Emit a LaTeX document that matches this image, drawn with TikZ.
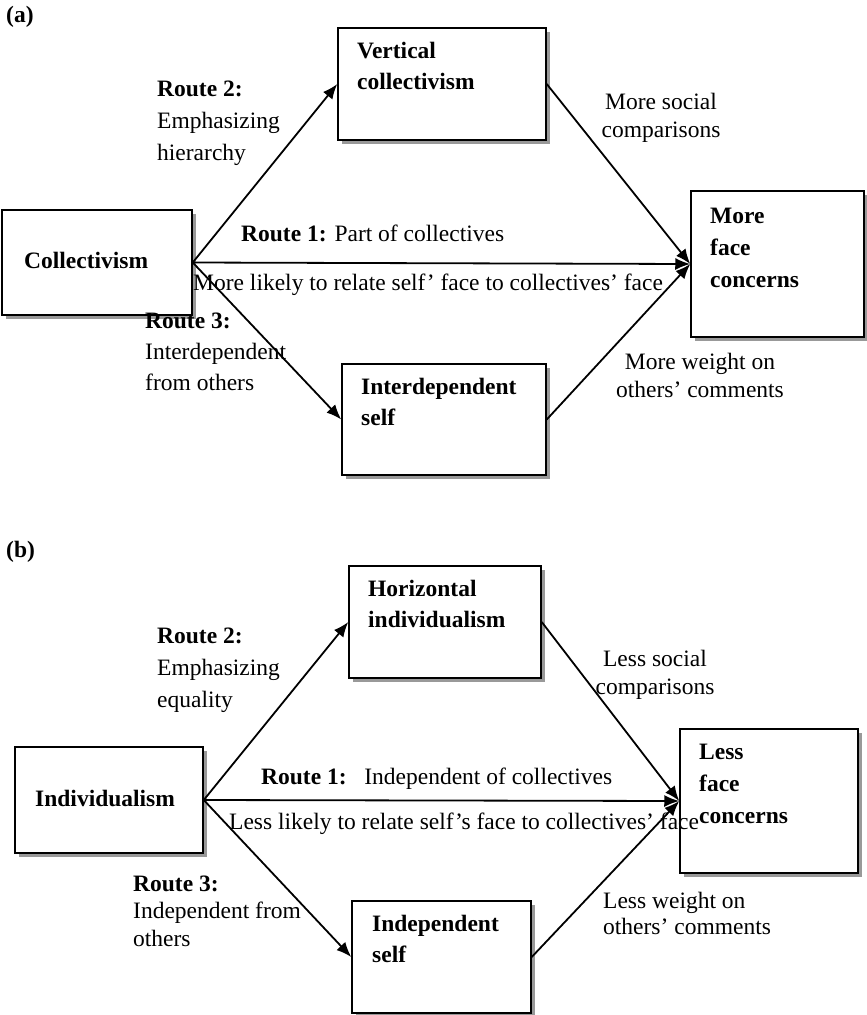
\documentclass[tikz,border=0pt]{standalone}
\usepackage{fontspec}
\setmainfont{Liberation Serif}
\usetikzlibrary{arrows.meta,shadows}

\begin{document}
\begin{tikzpicture}[x=1pt,y=-1pt,
  box/.style={draw, line width=1.5pt, fill=white, inner sep=0pt,
    drop shadow={shadow xshift=4pt, shadow yshift=-4pt, fill=black!40, opacity=1}},
  boxtext/.style={font=\fontsize{23.5}{31.5}\selectfont\bfseries, align=left, inner sep=0pt, anchor=base west},
  note/.style={font=\fontsize{23.5}{32}\selectfont, align=left, inner sep=0pt, anchor=base west},
  link/.style={line width=1.8pt, -{Latex[length=15pt,width=12pt]}},
]
\useasboundingbox (0,0) rectangle (867,1015);

% ---------- (a) collectivism ----------
% multi-line texts are anchored at the baseline of their last line
\node[font=\fontsize{23.5}{28}\selectfont\bfseries, inner sep=0pt, anchor=base west] (la) at (6,22) {(a)};

\node[box, minimum width=190pt, minimum height=105pt] (coll) at (97,262.5) {};
\node[box, minimum width=208pt, minimum height=112pt] (vc) at (442,84) {};
\node[box, minimum width=173pt, minimum height=146pt] (facea) at (777.5,264) {};
\node[box, minimum width=204pt, minimum height=111pt] (inter) at (444,419.5) {};

\node[boxtext] (tcoll) at (24,268) {Collectivism};
\node[boxtext] (tvc) at (357,89.5) {Vertical\\collectivism};
\node[boxtext, font=\fontsize{23.5}{32}\selectfont\bfseries] (tfacea) at (710,287) {More\\face\\concerns};
\node[boxtext] (tinter) at (361,425.5) {Interdependent\\self};

\draw[link] (coll.east) -- (vc.west);
\draw[link] (vc.east) -- (facea.west);
\draw[link] (coll.east) -- (facea.west);
\draw[link] (coll.east) -- (inter.west);
\draw[link] (inter.east) -- (facea.west);

\node[note] (r2a) at (157,160) {\textbf{Route 2:}\\Emphasizing\\hierarchy};
\node[note, anchor=base, align=center, font=\fontsize{23.5}{28}\selectfont] (sca) at (661,137) {More social\\comparisons};
\node[note] (r1a) at (241,241) {\textbf{Route 1:} Part of collectives};
\node[note] (lka) at (193,290) {More likely to relate self’ face to collectives’ face};
\node[note, font=\fontsize{23.5}{31}\selectfont] (r3a) at (145,390) {\textbf{Route 3:}\\Interdependent\\from others};
\node[note, anchor=base, align=center, font=\fontsize{23.5}{28}\selectfont] (wa) at (700,397) {More weight on\\others’ comments};

% ---------- (b) individualism ----------
\node[font=\fontsize{23.5}{28}\selectfont\bfseries, inner sep=0pt, anchor=base west] (lb) at (6,557) {(b)};

\node[box, minimum width=188pt, minimum height=106pt] (indiv) at (109,800) {};
\node[box, minimum width=192pt, minimum height=112pt] (hi) at (445,622) {};
\node[box, minimum width=178pt, minimum height=144pt] (faceb) at (769,801) {};
\node[box, minimum width=179pt, minimum height=112pt] (indep) at (441.5,957) {};

\node[boxtext] (tindiv) at (35,806) {Individualism};
\node[boxtext] (thi) at (368,627.5) {Horizontal\\individualism};
\node[boxtext, font=\fontsize{23.5}{32}\selectfont\bfseries] (tfaceb) at (699,823) {Less\\face\\concerns};
\node[boxtext] (tindep) at (372,962.5) {Independent\\self};

\draw[link] (indiv.east) -- (hi.west);
\draw[link] (hi.east) -- (faceb.west);
\draw[link] (indiv.east) -- (faceb.west);
\draw[link] (indiv.east) -- (indep.west);
\draw[link] (indep.east) -- (faceb.west);

\node[note] (r2b) at (157,707) {\textbf{Route 2:}\\Emphasizing\\equality};
\node[note, anchor=base, align=center, font=\fontsize{23.5}{28}\selectfont] (scb) at (655,694) {Less social\\comparisons};
\node[note] (r1b) at (261,784) {\textbf{Route 1:}\ \ \ Independent of collectives};
\node[note] (lkb) at (229,829) {Less likely to relate self’s face to collectives’ face};
\node[note, font=\fontsize{23.5}{27.5}\selectfont] (r3b) at (133,946) {\textbf{Route 3:}\\Independent from\\others};
\node[note, font=\fontsize{23.5}{26}\selectfont] (wb) at (603,934) {Less weight on\\others’ comments};
\end{tikzpicture}
\end{document}
